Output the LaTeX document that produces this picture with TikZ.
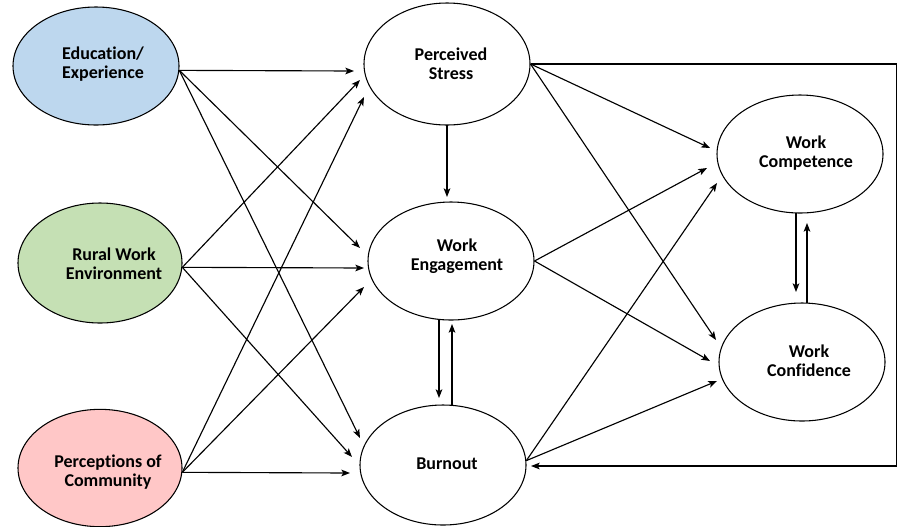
\documentclass[tikz,border=0pt]{standalone}
\usepackage{fontspec}
\setmainfont{Carlito}[Ligatures={NoCommon}]
\usetikzlibrary{shapes.geometric,arrows.meta}
\definecolor{eduBlue}{HTML}{BDD7EE}
\definecolor{ruralGreen}{HTML}{C5E0B4}
\definecolor{commPink}{HTML}{FFC7C7}
\begin{document}
\begin{tikzpicture}[x=0.75pt,y=-0.75pt,
  oval/.style={draw=black,ellipse,line width=0.8pt,inner sep=0pt,minimum width=124.5pt,minimum height=89pt},
  lbl/.style={font=\fontsize{13.5}{14}\selectfont\bfseries,align=center,inner sep=0pt},
  arr/.style={line width=0.85pt,-{Stealth[length=6.5pt,width=5pt,inset=1.5pt]}},
  plain/.style={line width=0.85pt}
]
\useasboundingbox (0,0) rectangle (898,526);
% ovals
\node[oval,fill=eduBlue,minimum height=88.5pt] (edu) at (96,66) {};
\node[oval,fill=ruralGreen,minimum width=123pt,minimum height=90pt] (rural) at (100,263) {};
\node[oval,fill=commPink,minimum width=123pt,minimum height=88pt] (comm) at (100,468) {};
\node[oval,minimum height=91.5pt] (ps) at (447,64) {};
\node[oval,minimum height=88.5pt] (we) at (451,261) {};
\node[oval,minimum height=90pt] (bo) at (443,465) {};
\node[oval,minimum height=88.5pt] (wc) at (800,154) {};
\node[oval,minimum height=88.5pt] (wf) at (802,362) {};
% labels
\node[lbl] (eduT) at (103,64) {Education/\\Experience};
\node[lbl] (ruralT) at (114,264) {Rural Work\\Environment};
\node[lbl] (commT) at (108,472) {Perceptions of\\Community};
\node[lbl] (psT) at (451,64) {Perceived\\Stress};
\node[lbl] (weT) at (457,256) {Work\\Engagement};
\node[lbl] (boT) at (447,464) {Burnout};
\node[lbl] (wcT) at (806,153) {Work\\Competence};
\node[lbl] (wfT) at (809,361) {Work\\Confidence};
% arrow tips (free ends)
\coordinate (tEduPs) at (354,71);
\coordinate (tEduWe) at (360,248);
\coordinate (tEduBo) at (360,438);
\coordinate (tRurPs) at (360,80);
\coordinate (tRurWe) at (364,268);
\coordinate (tRurBo) at (352,457);
\coordinate (tComPs) at (364,97);
\coordinate (tComWe) at (364,287);
\coordinate (tComBo) at (350,473);
\coordinate (tPsWc) at (710,148);
\coordinate (tPsWf) at (716,340);
\coordinate (tWeWc) at (707,168);
\coordinate (tWeWf) at (710,361);
\coordinate (tBoWc) at (717,183);
\coordinate (tBoWf) at (717,381);
\coordinate (sPsWe) at (447,125);
\coordinate (tPsWe) at (447,197);
\coordinate (sWeBo) at (439,320);
\coordinate (tWeBo) at (439,398);
\coordinate (sBoWe) at (452,406);
\coordinate (tBoWe) at (452,324);
\coordinate (sWcWf) at (796,213);
\coordinate (tWcWf) at (796,292);
\coordinate (sWfWc) at (807,303);
\coordinate (tWfWc) at (807,223);
\coordinate (cBR) at (896.5,466);
\coordinate (tPsBo) at (531,466);
% left connectors
\draw[arr] (edu.-3) -- (tEduPs);
\draw[arr] (edu.-3) -- (tEduWe);
\draw[arr] (edu.-3) -- (tEduBo);
\draw[arr] (rural.-3) -- (tRurPs);
\draw[arr] (rural.-3) -- (tRurWe);
\draw[arr] (rural.-3) -- (tRurBo);
\draw[arr] (comm.-3) -- (tComPs);
\draw[arr] (comm.-3) -- (tComWe);
\draw[arr] (comm.-3) -- (tComBo);
% middle verticals
\draw[arr] (sPsWe) -- (tPsWe);
\draw[arr] (sWeBo) -- (tWeBo);
\draw[arr] (sBoWe) -- (tBoWe);
% right connectors
\draw[arr] (ps.east) -- (tPsWc);
\draw[arr] (ps.east) -- (tPsWf);
\draw[arr] (we.east) -- (tWeWc);
\draw[arr] (we.east) -- (tWeWf);
\draw[arr] (bo.3) -- (tBoWc);
\draw[arr] (bo.3) -- (tBoWf);
\draw[arr] (sWcWf) -- (tWcWf);
\draw[arr] (sWfWc) -- (tWfWc);
% feedback loop
\draw[arr] (ps.east) -- (ps.east -| cBR) -- (cBR) -- (tPsBo);
\end{tikzpicture}
\end{document}
